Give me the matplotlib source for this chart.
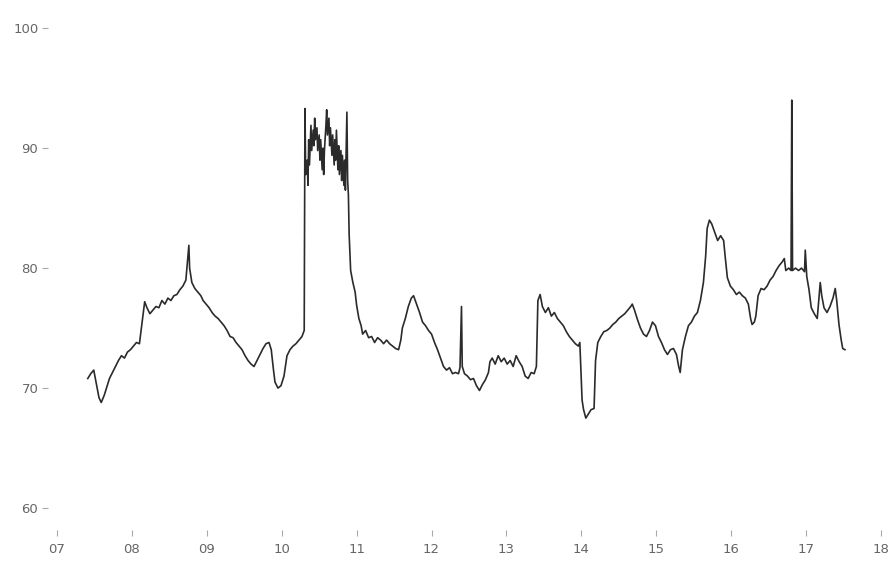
import numpy as np
import matplotlib.pyplot as plt

# decimal year, index value
dates = np.array([
    2007.41, 2007.45, 2007.49, 2007.52, 2007.56, 2007.59, 2007.63, 2007.66, 2007.70, 2007.74,
    2007.78, 2007.82, 2007.86, 2007.90, 2007.94, 2007.98, 2008.02, 2008.06, 2008.10, 2008.14,
    2008.17, 2008.20, 2008.24, 2008.28, 2008.32, 2008.36, 2008.40, 2008.44, 2008.48, 2008.52,
    2008.56, 2008.60, 2008.64, 2008.68, 2008.72, 2008.74, 2008.76, 2008.77, 2008.80, 2008.84,
    2008.88, 2008.92, 2008.95, 2008.99, 2009.03, 2009.07, 2009.11, 2009.15, 2009.19, 2009.23,
    2009.27, 2009.31, 2009.35, 2009.39, 2009.43, 2009.47, 2009.51, 2009.55, 2009.59, 2009.63,
    2009.67, 2009.71, 2009.75, 2009.79, 2009.83, 2009.86, 2009.89, 2009.91, 2009.95, 2009.99,
    2010.03, 2010.07, 2010.11, 2010.15, 2010.19, 2010.23, 2010.27, 2010.30, 2010.31, 2010.32,
    2010.34, 2010.35, 2010.36, 2010.37, 2010.39, 2010.40, 2010.42, 2010.43, 2010.44, 2010.45,
    2010.47, 2010.48, 2010.50, 2010.51, 2010.52, 2010.54, 2010.55, 2010.56, 2010.57, 2010.59,
    2010.60, 2010.61, 2010.63, 2010.64, 2010.65, 2010.67, 2010.68, 2010.70, 2010.71, 2010.72,
    2010.73, 2010.75, 2010.76, 2010.77, 2010.79, 2010.80, 2010.81, 2010.83, 2010.84, 2010.85,
    2010.87, 2010.88, 2010.89, 2010.90, 2010.92, 2010.95, 2010.98, 2011.00, 2011.03, 2011.06,
    2011.08, 2011.12, 2011.16, 2011.20, 2011.24, 2011.28, 2011.32, 2011.36, 2011.40, 2011.44,
    2011.48, 2011.52, 2011.56, 2011.59, 2011.61, 2011.65, 2011.69, 2011.73, 2011.76, 2011.80,
    2011.84, 2011.88, 2011.92, 2011.96, 2012.00, 2012.04, 2012.08, 2012.12, 2012.16, 2012.20,
    2012.24, 2012.28, 2012.32, 2012.36, 2012.38, 2012.40, 2012.41, 2012.44, 2012.48, 2012.52,
    2012.56, 2012.60, 2012.64, 2012.68, 2012.72, 2012.76, 2012.78, 2012.81, 2012.85, 2012.89,
    2012.93, 2012.97, 2013.01, 2013.05, 2013.09, 2013.13, 2013.17, 2013.21, 2013.25, 2013.29,
    2013.33, 2013.37, 2013.40, 2013.42, 2013.45, 2013.48, 2013.52, 2013.56, 2013.60, 2013.64,
    2013.68, 2013.72, 2013.76, 2013.80, 2013.84, 2013.88, 2013.92, 2013.96, 2013.98, 2014.01,
    2014.03, 2014.06, 2014.09, 2014.13, 2014.17, 2014.19, 2014.22, 2014.26, 2014.30, 2014.34,
    2014.38, 2014.42, 2014.46, 2014.50, 2014.54, 2014.58, 2014.62, 2014.66, 2014.68, 2014.71,
    2014.75, 2014.79, 2014.83, 2014.87, 2014.91, 2014.95, 2014.99, 2015.03, 2015.07, 2015.11,
    2015.15, 2015.19, 2015.23, 2015.27, 2015.30, 2015.32, 2015.35, 2015.39, 2015.43, 2015.47,
    2015.51, 2015.55, 2015.59, 2015.63, 2015.66, 2015.68, 2015.71, 2015.74, 2015.78, 2015.82,
    2015.86, 2015.90, 2015.92, 2015.95, 2015.99, 2016.03, 2016.07, 2016.11, 2016.15, 2016.19,
    2016.23, 2016.26, 2016.28, 2016.31, 2016.33, 2016.36, 2016.40, 2016.44, 2016.48, 2016.52,
    2016.56, 2016.60, 2016.64, 2016.68, 2016.71, 2016.73, 2016.77, 2016.80, 2016.81, 2016.82,
    2016.86, 2016.90, 2016.94, 2016.98, 2016.99, 2017.01, 2017.04, 2017.07, 2017.11, 2017.15,
    2017.17, 2017.19, 2017.21, 2017.24, 2017.28, 2017.32, 2017.36, 2017.39, 2017.41, 2017.44,
    2017.47, 2017.49, 2017.52,
])

values = np.array([
    70.8, 71.2, 71.5, 70.5, 69.2, 68.8, 69.4, 70.0, 70.8, 71.3,
    71.8, 72.3, 72.7, 72.5, 73.0, 73.2, 73.5, 73.8, 73.7, 75.7,
    77.2, 76.7, 76.2, 76.5, 76.8, 76.7, 77.3, 77.0, 77.5, 77.3,
    77.7, 77.8, 78.2, 78.5, 79.0, 80.5, 81.9, 80.0, 78.8, 78.3,
    78.0, 77.7, 77.3, 77.0, 76.7, 76.3, 76.0, 75.8, 75.5, 75.2,
    74.8, 74.3, 74.2, 73.8, 73.5, 73.2, 72.7, 72.3, 72.0, 71.8,
    72.3, 72.8, 73.3, 73.7, 73.8, 73.2, 71.5, 70.5, 70.0, 70.2,
    71.0, 72.7, 73.2, 73.5, 73.7, 74.0, 74.3, 74.8, 93.3, 87.8,
    89.0, 86.9, 90.7, 88.6, 91.9, 89.8, 91.5, 90.2, 92.5, 90.7,
    91.7, 89.8, 91.1, 89.0, 90.7, 88.2, 90.0, 87.8, 89.8, 91.9,
    93.2, 91.1, 92.5, 90.2, 91.7, 89.4, 91.1, 88.6, 90.7, 89.0,
    91.5, 88.2, 90.2, 87.8, 89.8, 87.3, 89.4, 86.9, 89.0, 86.5,
    93.0, 87.3, 86.1, 82.8, 79.8, 78.8, 78.0, 76.9, 75.8, 75.2,
    74.5, 74.8, 74.2, 74.3, 73.8, 74.2, 74.0, 73.7, 74.0, 73.7,
    73.5, 73.3, 73.2, 74.0, 75.0, 75.8, 76.8, 77.5, 77.7, 77.0,
    76.3, 75.5, 75.2, 74.8, 74.5, 73.8, 73.2, 72.5, 71.8, 71.5,
    71.7, 71.2, 71.3, 71.2, 71.7, 76.8, 71.8, 71.2, 71.0, 70.7,
    70.8, 70.2, 69.8, 70.3, 70.7, 71.3, 72.2, 72.5, 72.0, 72.7,
    72.2, 72.5, 72.0, 72.3, 71.8, 72.7, 72.2, 71.8, 71.0, 70.8,
    71.3, 71.2, 71.8, 77.3, 77.8, 76.8, 76.3, 76.7, 76.0, 76.3,
    75.8, 75.5, 75.2, 74.7, 74.3, 74.0, 73.7, 73.5, 73.8, 69.0,
    68.2, 67.5, 67.8, 68.2, 68.3, 72.3, 73.8, 74.3, 74.7, 74.8,
    75.0, 75.3, 75.5, 75.8, 76.0, 76.2, 76.5, 76.8, 77.0, 76.5,
    75.7, 75.0, 74.5, 74.3, 74.8, 75.5, 75.2, 74.3, 73.8, 73.2,
    72.8, 73.2, 73.3, 72.8, 71.8, 71.3, 73.2, 74.3, 75.2, 75.5,
    76.0, 76.3, 77.3, 78.8, 81.0, 83.3, 84.0, 83.7, 83.0, 82.3,
    82.7, 82.3, 81.0, 79.2, 78.5, 78.2, 77.8, 78.0, 77.7, 77.5,
    77.0, 75.8, 75.3, 75.5, 76.0, 77.7, 78.3, 78.2, 78.5, 79.0,
    79.3, 79.8, 80.2, 80.5, 80.8, 79.8, 80.0, 79.8, 94.0, 79.8,
    80.0, 79.8, 80.0, 79.7, 81.5, 79.3, 78.2, 76.7, 76.2, 75.8,
    77.3, 78.8, 77.7, 76.7, 76.3, 76.8, 77.5, 78.3, 77.3, 75.3,
    74.0, 73.3, 73.2,
])

years = np.arange(2007, 2019)
year_labels = ["%02d" % (y % 100) for y in years]
y_ticks = [60, 70, 80, 90, 100]

fig = plt.figure(figsize=(8.9, 5.63), dpi=100)
ax = fig.add_axes([0.054, 0.0586, 0.940, 0.902])

ax.plot(dates, values, color="#2b2b2b", linewidth=1.2)

ax.set_xlim(2006.88, 2018.05)
ax.set_ylim(58.17, 100.5)
ax.set_xticks(years)
ax.set_xticklabels(year_labels)
ax.set_yticks(y_ticks)

for side in ["top", "right", "bottom", "left"]:
    ax.spines[side].set_visible(False)
ax.tick_params(axis="both", colors="#aaaaaa", labelcolor="#666666",
               labelsize=9.5, length=4, width=0.8, pad=3)
ax.tick_params(axis="x", pad=5)

fig.savefig("out.png", dpi=100, facecolor="white")
